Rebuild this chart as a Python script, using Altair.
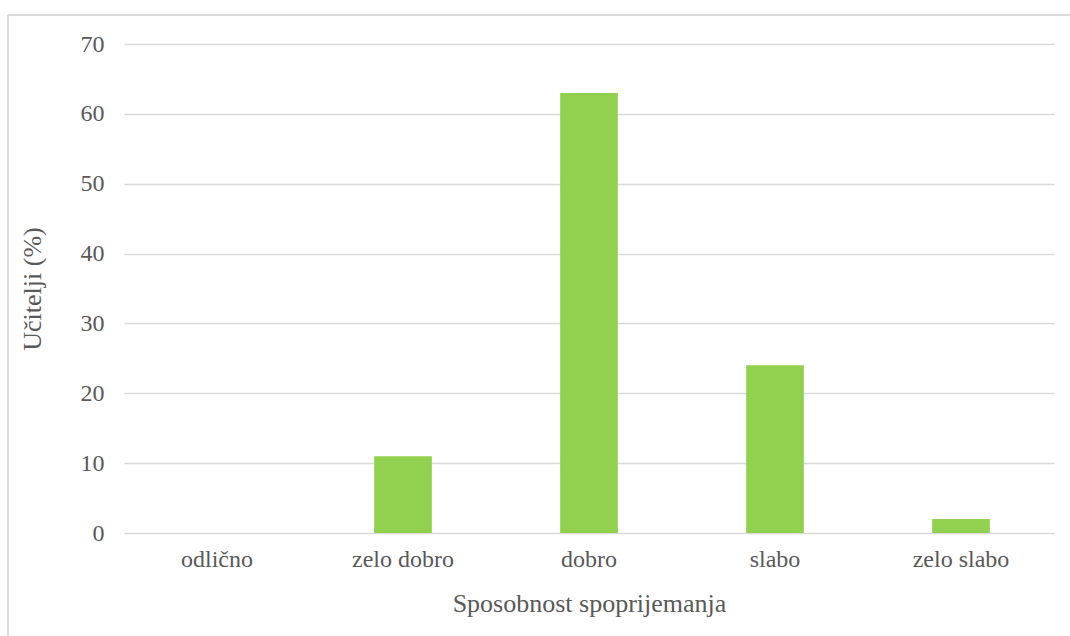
import altair as alt
import pandas as pd

# Ocjena sposobnosti spoprijemanja (udio učitelja, %)
categories = ["odlično", "zelo dobro", "dobro", "slabo", "zelo slabo"]
values = [0, 11, 63, 24, 2]
y_ticks = [0, 10, 20, 30, 40, 50, 60, 70]

df = pd.DataFrame({"kategorija": categories, "udio": values})

FONT = "'Liberation Serif', 'Times New Roman', serif"
TEXT = "#595959"
GRID = "#D9D9D9"
BAR = "#92D050"

W, H = 930, 489
PAD = {"left": 124, "top": 44, "right": 16, "bottom": 103}

bars = alt.Chart(df).mark_bar(color=BAR).encode(
    x=alt.X(
        "kategorija:N",
        sort=categories,
        scale=alt.Scale(paddingInner=0.69, paddingOuter=0.345),
        axis=alt.Axis(
            title="Sposobnost spoprijemanja",
            labelAngle=0,
            labelFont=FONT,
            labelFontSize=24,
            labelColor=TEXT,
            labelPadding=14,
            ticks=False,
            domain=False,
            titleFont=FONT,
            titleFontSize=26,
            titleFontWeight="normal",
            titleColor=TEXT,
            titleY=70,
            titleBaseline="middle",
        ),
    ),
    y=alt.Y(
        "udio:Q",
        scale=alt.Scale(domain=[0, 70], nice=False),
        axis=alt.Axis(
            title="Učitelji (%)",
            values=y_ticks,
            labelFont=FONT,
            labelFontSize=24,
            labelColor=TEXT,
            labelPadding=20,
            ticks=False,
            domain=False,
            grid=True,
            gridColor=GRID,
            gridWidth=1.5,
            titleFont=FONT,
            titleFontSize=26,
            titleFontWeight="normal",
            titleColor=TEXT,
            titleX=-92,
            titleY=H / 2,
            titleAngle=-90,
            titleAlign="center",
            titleBaseline="middle",
        ),
    ),
)

# outer frame of the chart area (top and left edges)
frame_top = alt.Chart(df).mark_rule(color=GRID, strokeWidth=2).encode(
    x=alt.value(-116), x2=alt.value(W + PAD["right"]), y=alt.value(-29)
)
frame_left = alt.Chart(df).mark_rule(color=GRID, strokeWidth=2).encode(
    x=alt.value(-116), y=alt.value(-29), y2=alt.value(H + PAD["bottom"])
)

chart = (
    alt.layer(bars, frame_top, frame_left)
    .properties(
        width=W,
        height=H,
        padding=PAD,
        autosize=alt.AutoSizeParams(type="none"),
        background="white",
    )
    .configure_view(stroke=None)
)

chart.save("out.html", embed_options={"renderer": "svg", "actions": False})
